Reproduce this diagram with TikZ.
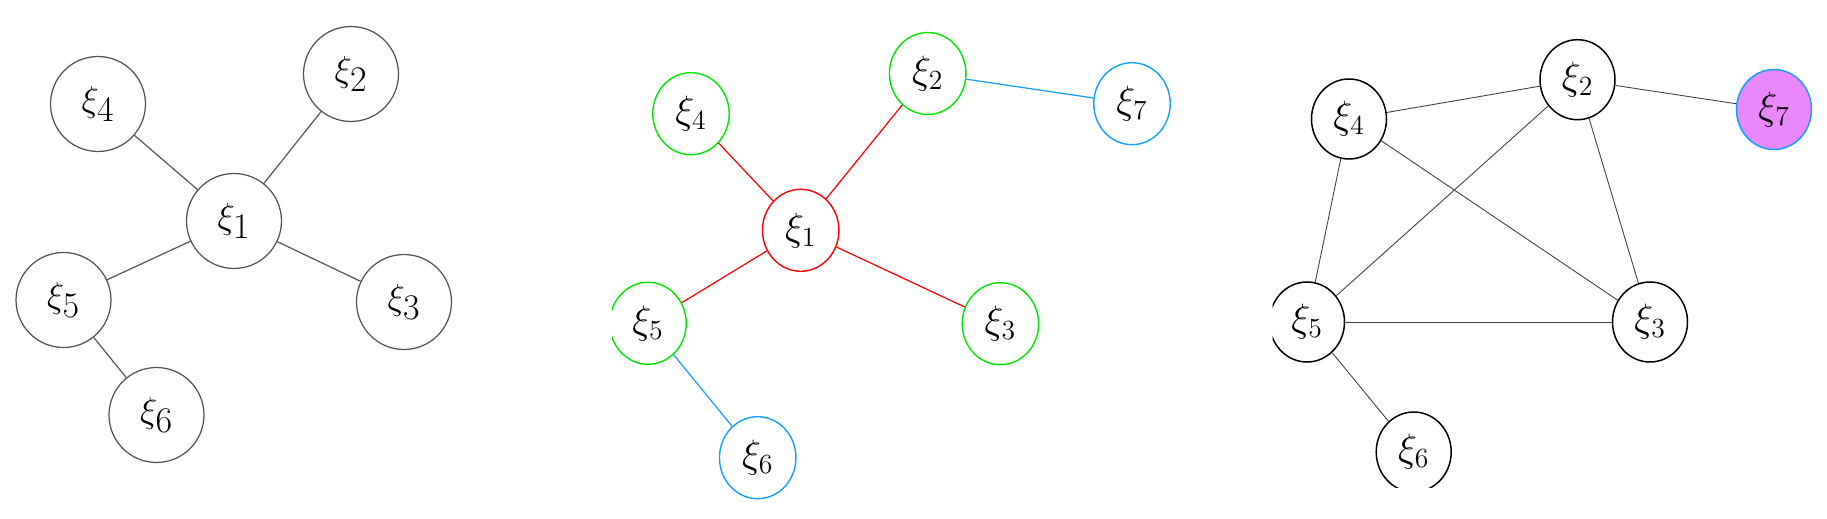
\documentclass[tikz,border=0pt]{standalone}
\usepackage{fix-cm}
\usepackage{amsmath}
\usepackage{tikz}
\usetikzlibrary{shapes.geometric}
\definecolor{nodegreen}{RGB}{0,232,0}
\definecolor{leafblue}{RGB}{20,160,250}
\definecolor{pickviolet}{RGB}{232,136,250}

\begin{document}
\begin{tikzpicture}[x=0.02cm,y=-0.02cm,
  grey node/.style={circle, draw=black!68, line width=0.7pt, inner sep=0pt, minimum size=1.9cm, font=\fontsize{20.5}{24}\selectfont},
  grey edge/.style={draw=black!65, line width=0.7pt},
  col node/.style={ellipse, line width=0.8pt, inner sep=0pt, minimum width=1.53cm, minimum height=1.64cm, font=\fontsize{22.5}{26}\selectfont},
  blk node/.style={ellipse, draw=black, line width=0.85pt, inner sep=0pt, minimum width=1.5cm, minimum height=1.6cm, font=\fontsize{22.5}{25}\selectfont},
  blk edge/.style={draw=black!75, line width=0.5pt}]
\useasboundingbox (0,0) rectangle (1827,519);
%LEFT
\node[grey node] (a1) at (234,221) {$\xi_{\textstyle 1}$};
\node[grey node] (a2) at (351,74) {$\xi_{\textstyle 2}$};
\node[grey node] (a3) at (404,302) {$\xi_{\textstyle 3}$};
\node[grey node] (a4) at (98,104) {$\xi_{\textstyle 4}$};
\node[grey node] (a5) at (63.5,300) {$\xi_{\textstyle 5}$};
\node[grey node] (a6) at (156.5,415) {$\xi_{\textstyle 6}$};
\draw[grey edge] (a1) -- (a2);
\draw[grey edge] (a1) -- (a3);
\draw[grey edge] (a1) -- (a4);
\draw[grey edge] (a1) -- (a5);
\draw[grey edge] (a5) -- (a6);
%MIDDLE
\begin{scope}
\clip (612,0) rectangle (1260,519);
\node[col node, draw=red] (b1) at (800.7,230.3) {$\xi_1$};
\node[col node, draw=nodegreen] (b2) at (927.7,73.5) {$\xi_2$};
\node[col node, draw=nodegreen] (b3) at (1000.4,323.7) {$\xi_3$};
\node[col node, draw=nodegreen] (b4) at (691,113.7) {$\xi_4$};
\node[col node, draw=nodegreen] (b5) at (648,323.3) {$\xi_5$};
\node[col node, draw=leafblue] (b6) at (757.7,457.7) {$\xi_6$};
\node[col node, draw=leafblue] (b7) at (1132,103.7) {$\xi_7$};
\draw[red, line width=0.7pt] (b1) -- (b2);
\draw[red, line width=0.7pt] (b1) -- (b3);
\draw[red, line width=0.7pt] (b1) -- (b4);
\draw[red, line width=0.7pt] (b1) -- (b5);
\draw[leafblue, line width=0.7pt] (b2) -- (b7);
\draw[leafblue, line width=0.7pt] (b5) -- (b6);
\end{scope}
%RIGHT
\begin{scope}
\clip (1272.7,0) rectangle (1827,488);
\node[blk node] (c2) at (1577.5,79.7) {$\xi_2$};
\node[blk node] (c3) at (1650,322) {$\xi_3$};
\node[blk node] (c4) at (1349,119) {$\xi_4$};
\node[blk node] (c5) at (1307,322) {$\xi_5$};
\node[blk node] (c6) at (1413.7,452) {$\xi_6$};
\node[blk node, draw=leafblue, fill=pickviolet] (c7) at (1774,109.5) {$\xi_7$};
\draw[blk edge] (c4) -- (c2);
\draw[blk edge] (c2) -- (c7);
\draw[blk edge] (c4) -- (c5);
\draw[blk edge] (c4) -- (c3);
\draw[blk edge] (c2) -- (c5);
\draw[blk edge] (c2) -- (c3);
\draw[blk edge] (c5) -- (c3);
\draw[blk edge] (c5) -- (c6);
\end{scope}
\end{tikzpicture}
\end{document}
